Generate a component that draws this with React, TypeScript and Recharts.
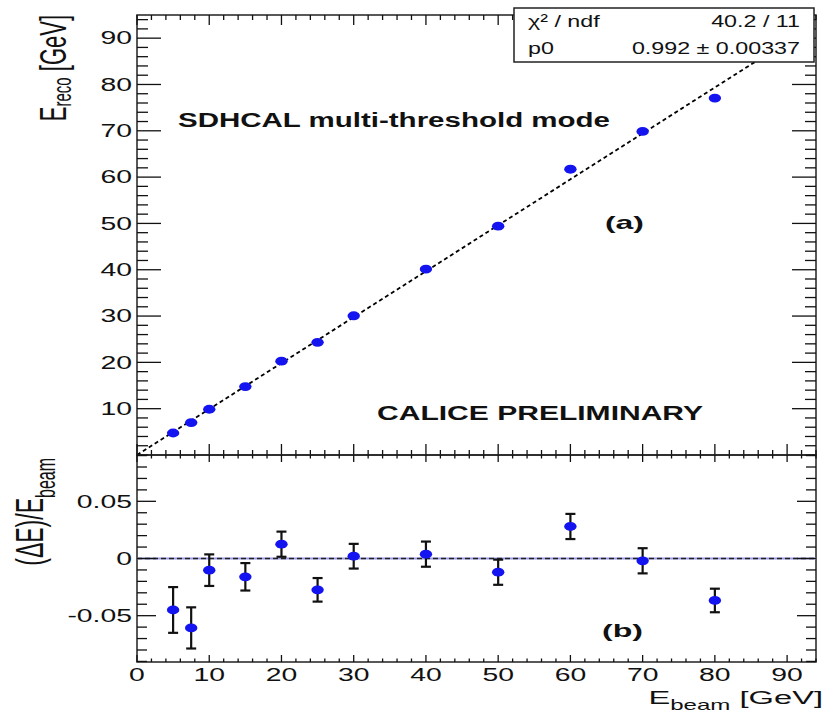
import React from "react";
import {
  ScatterChart,
  Scatter,
  XAxis,
  YAxis,
  ErrorBar,
  ReferenceLine,
  ReferenceArea
} from "recharts";

// beam energies and measured values
const ebeam = [5, 7.5, 10, 15, 20, 25, 30, 40, 50, 60, 70, 80];
const ereco = [4.75, 7.0, 9.88, 14.78, 20.25, 24.32, 30.06, 40.15, 49.4, 61.7, 69.86, 77.06];
const resid = [-0.045, -0.0607, -0.0102, -0.016, 0.0125, -0.0274, 0.002, 0.0038, -0.012, 0.028, -0.002, -0.0367];
const residErr = [0.02, 0.018, 0.0138, 0.012, 0.011, 0.0103, 0.0108, 0.011, 0.011, 0.011, 0.011, 0.0103];

// fit
const fitP0 = 0.992;
const fitRange = [0, 93];
const statsRows = [
  ["χ² / ndf", "40.2 / 11"],
  ["p0", "0.992 ± 0.00337"]
];

// axes
const xDomain = [0, 94];
const yTopDomain = [0, 95];
const yBotDomain = [-0.0905, 0.0905];
const xLabels = [0, 10, 20, 30, 40, 50, 60, 70, 80, 90];
const yTopLabels = [10, 20, 30, 40, 50, 60, 70, 80, 90];
const yBotLabels = [-0.05, 0, 0.05];
const xTicks = Array.from({ length: 48 }, (_, i) => i * 2);
const yTopTicks = Array.from({ length: 48 }, (_, i) => i * 2);
const yBotTicks = Array.from({ length: 19 }, (_, i) => (i - 9) / 100);

const topData = ebeam.map((x, i) => ({ x, y: ereco[i] }));
const botData = ebeam.map((x, i) => ({ x, y: resid[i], err: residErr[i] }));

// layout
const W = 825;
const LEFT = 137;
const RIGHT = 816;
const PLOT_W = RIGHT - LEFT;
const TOP_H = 440;
const BOT_H = 207;
const FONT = "Liberation Sans, Arial, Helvetica, sans-serif";
const BLUE = "#1414f0";

const isIn = (v: number, list: number[]) => list.some((l) => Math.abs(l - v) < 1e-6);

const Dot = (p: any) => <ellipse cx={p.cx} cy={p.cy} rx={6.2} ry={4.4} fill={BLUE} />;

function XTick(props: any) {
  const { x, y, payload, plotH, low, high, labels } = props;
  const major = isIn(payload.value, xLabels);
  return (
    <g>
      <line x1={x} y1={y} x2={x} y2={y - (major ? low[0] : low[1])} stroke="#111" strokeWidth={1.3} />
      <line x1={x} y1={y - plotH} x2={x} y2={y - plotH + (major ? high[0] : high[1])} stroke="#111" strokeWidth={1.3} />
      {labels && major && (
        <text transform={`translate(${x},${y + 18.5}) scale(1.62,1)`} textAnchor="middle" fontSize={17.5} fontFamily={FONT} fill="#111">
          {payload.value}
        </text>
      )}
    </g>
  );
}

function YTick(props: any) {
  const { x, y, payload, len, labels } = props;
  const major = isIn(payload.value, labels);
  const l = major ? len[0] : len[1];
  return (
    <g>
      <line x1={x} y1={y} x2={x + l} y2={y} stroke="#111" strokeWidth={1.3} />
      <line x1={x + PLOT_W} y1={y} x2={x + PLOT_W - l} y2={y} stroke="#111" strokeWidth={1.3} />
      {major && (
        <text transform={`translate(${x - 5},${y + 6.3}) scale(1.62,1)`} textAnchor="end" fontSize={17.5} fontFamily={FONT} fill="#111">
          {Math.round(payload.value * 100) / 100}
        </text>
      )}
    </g>
  );
}

export default function App() {
  return (
    <div style={{ position: "absolute", left: 0, top: 0, width: W, height: 712, background: "#fff" }}>
      <div style={{ position: "absolute", left: 0, top: 0 }}>
        <ScatterChart width={W} height={470} margin={{ top: 15, right: W - RIGHT, bottom: 0, left: LEFT - 60 }}>
          <XAxis
            type="number"
            dataKey="x"
            domain={xDomain}
            ticks={xTicks}
            interval={0}
            height={15}
            tickSize={0}
            tickMargin={0}
            axisLine={false}
            tick={(p: any) => <XTick {...p} plotH={TOP_H} low={[11, 5]} high={[10, 5]} labels={false} />}
          />
          <YAxis
            type="number"
            dataKey="y"
            domain={yTopDomain}
            ticks={yTopTicks}
            interval={0}
            width={60}
            tickSize={0}
            tickMargin={0}
            axisLine={false}
            tick={(p: any) => <YTick {...p} len={[24, 11]} labels={yTopLabels} />}
          />
          <ReferenceArea x1={xDomain[0]} x2={xDomain[1]} y1={yTopDomain[0]} y2={yTopDomain[1]} fill="none" stroke="#222" strokeWidth={1.5} ifOverflow="visible" />
          <ReferenceLine
            segment={[
              { x: fitRange[0], y: fitRange[0] * fitP0 },
              { x: fitRange[1], y: fitRange[1] * fitP0 }
            ]}
            stroke="#000"
            strokeWidth={1.8}
            strokeDasharray="4 3"
          />
          <Scatter data={topData} shape={Dot} isAnimationActive={false} />
        </ScatterChart>
      </div>
      <div style={{ position: "absolute", left: 0, top: 440 }}>
        <ScatterChart width={W} height={272} margin={{ top: 15, right: W - RIGHT, bottom: 20, left: LEFT - 60 }}>
          <XAxis
            type="number"
            dataKey="x"
            domain={xDomain}
            ticks={xTicks}
            interval={0}
            height={30}
            tickSize={0}
            tickMargin={0}
            axisLine={false}
            tick={(p: any) => <XTick {...p} plotH={BOT_H} low={[7, 3.5]} high={[7, 3.5]} labels={true} />}
          />
          <YAxis
            type="number"
            dataKey="y"
            domain={yBotDomain}
            ticks={yBotTicks}
            interval={0}
            width={60}
            tickSize={0}
            tickMargin={0}
            axisLine={false}
            allowDataOverflow
            tick={(p: any) => <YTick {...p} len={[19, 10]} labels={yBotLabels} />}
          />
          <ReferenceArea x1={xDomain[0]} x2={xDomain[1]} y1={yBotDomain[0]} y2={yBotDomain[1]} fill="none" stroke="#222" strokeWidth={1.5} ifOverflow="visible" />
          <ReferenceLine y={0} stroke="#9a9ae6" strokeWidth={2} />
          <ReferenceLine y={0} stroke="#222" strokeWidth={1.5} strokeDasharray="5 3" />
          <Scatter data={botData} shape={Dot} isAnimationActive={false}>
            <ErrorBar dataKey="err" direction="y" width={5} stroke="#111" strokeWidth={2.2} isAnimationActive={false} />
          </Scatter>
        </ScatterChart>
      </div>
      <svg width={W} height={712} style={{ position: "absolute", left: 0, top: 0, pointerEvents: "none" }} fontFamily={FONT}>
        <rect x={514} y={8} width={300} height={54} fill="#fff" stroke="#222" strokeWidth={1.5} />
        {statsRows.map((r, i) => (
          <g key={r[0]}>
            <text transform={`translate(528,${27 + i * 27}) scale(1.37,1)`} fontSize={17} fill="#111">{r[0]}</text>
            <text transform={`translate(800,${27 + i * 27}) scale(1.37,1)`} fontSize={17} fill="#111" textAnchor="end">{r[1]}</text>
          </g>
        ))}
        <text x={178} y={127} fontSize={19.5} fontWeight="bold" textLength={432} lengthAdjust="spacingAndGlyphs" fill="#111">
          SDHCAL multi-threshold mode
        </text>
        <text x={377} y={420} fontSize={19.5} fontWeight="bold" textLength={326} lengthAdjust="spacingAndGlyphs" fill="#111">
          CALICE PRELIMINARY
        </text>
        <text x={605} y={229} fontSize={18.5} fontWeight="bold" textLength={39} lengthAdjust="spacingAndGlyphs" fill="#111">
          (a)
        </text>
        <text x={602} y={637} fontSize={18.5} fontWeight="bold" textLength={41} lengthAdjust="spacingAndGlyphs" fill="#111">
          (b)
        </text>
        <text transform="translate(66,15) rotate(-90) scale(1,1.67)" textAnchor="end" fontSize={22} fill="#111">
          E<tspan fontSize={15} dy={3}>reco</tspan>
          <tspan dy={-3}> [GeV]</tspan>
        </text>
        <text transform="translate(43,458) rotate(-90) scale(1,1.67)" textAnchor="end" fontSize={23} fill="#111">
          (ΔE)/E<tspan fontSize={16} dy={7}>beam</tspan>
        </text>
        <text transform="translate(823,704) scale(1.72,1)" textAnchor="end" fontSize={19} fill="#111">
          E<tspan fontSize={14} dy={6}>beam</tspan>
          <tspan dy={-6}> [GeV]</tspan>
        </text>
      </svg>
    </div>
  );
}
